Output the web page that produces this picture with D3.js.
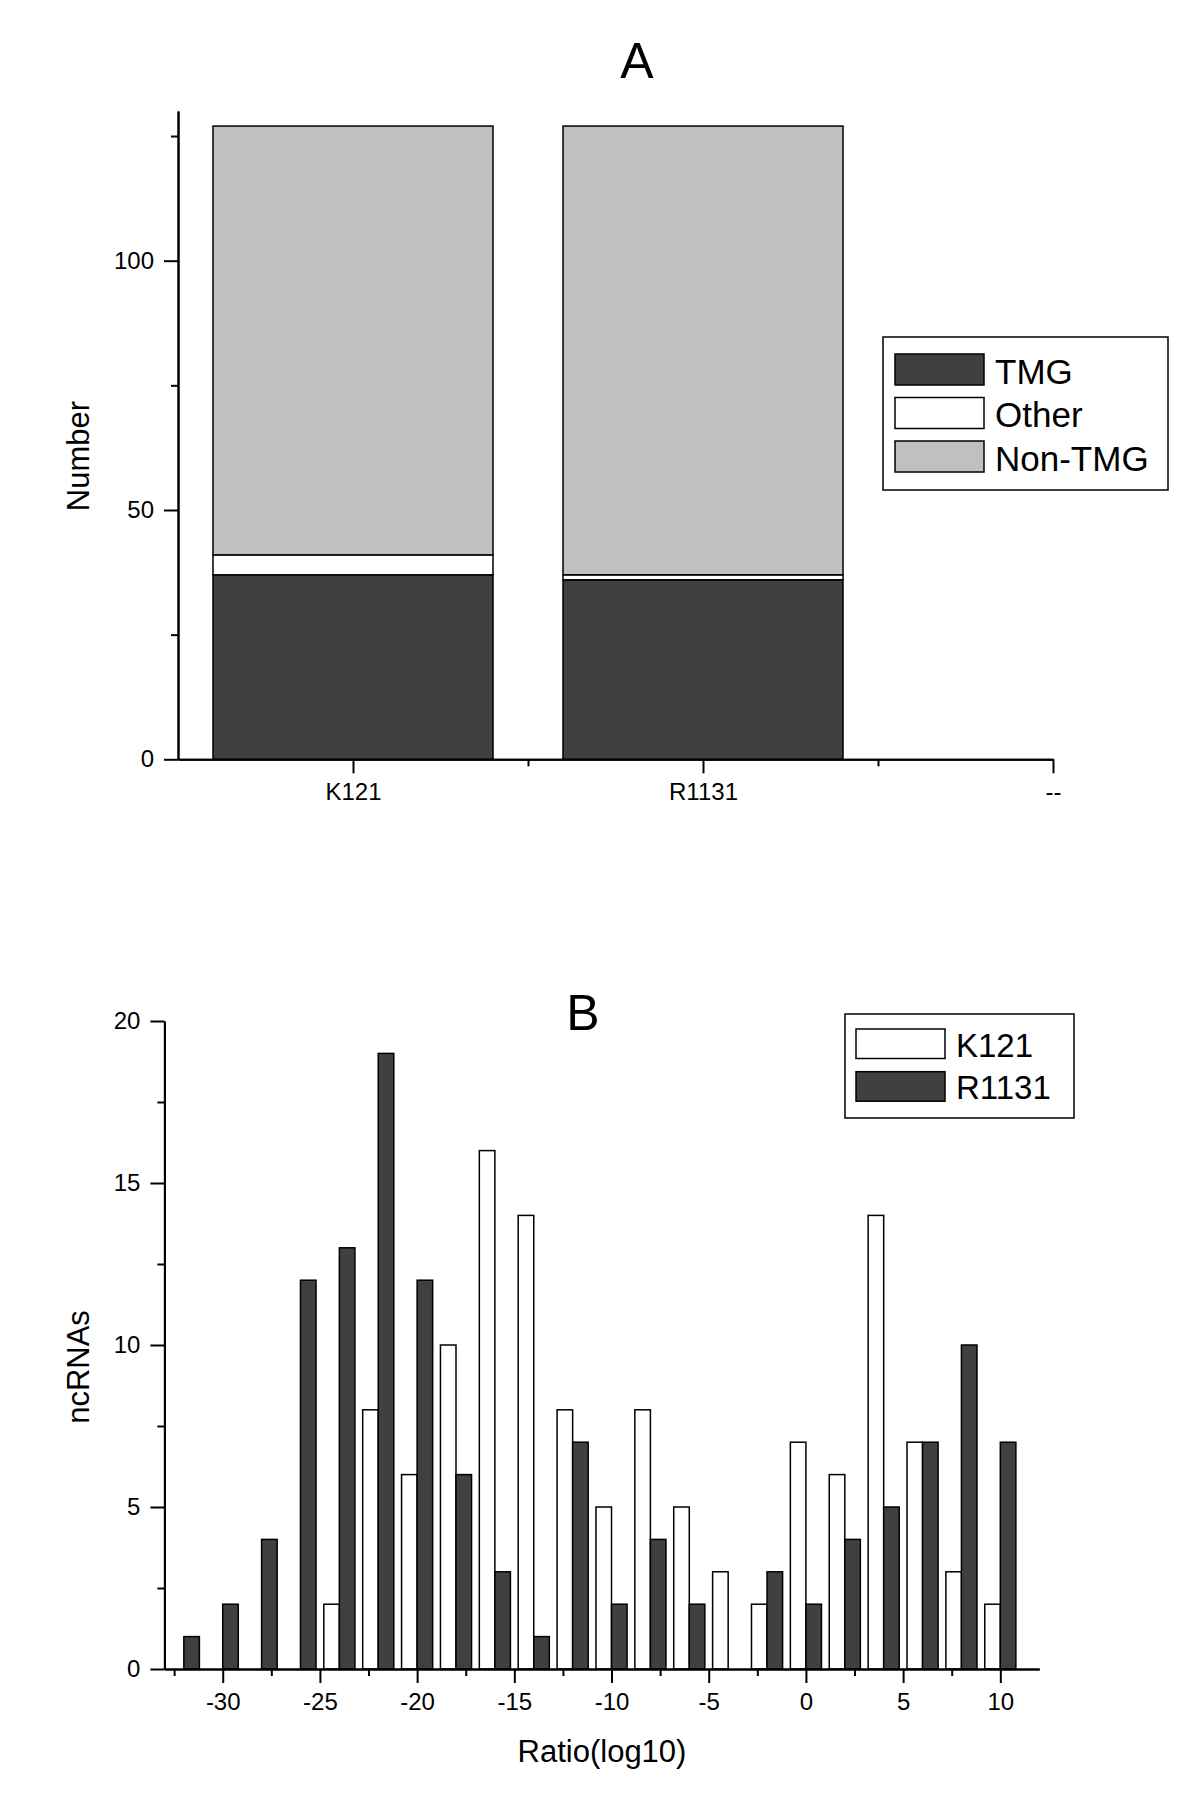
<!DOCTYPE html>
<html>
<head>
<meta charset="utf-8">
<script src="https://cdn.jsdelivr.net/npm/d3@7"></script>
<style>
  html, body { margin: 0; padding: 0; background: #fff; }
  svg { display: block; }
  text { font-family: "Liberation Sans", Arial, Helvetica, sans-serif; fill: #000; }
</style>
</head>
<body>
<svg id="chart" width="1200" height="1809"></svg>
<script>
// ---------- Data: panel A ----------
const groupsA = ["K121", "R1131"];
const tickLabelsA = ["K121", "R1131", "--"];
const seriesA = ["TMG", "Other", "Non-TMG"];
const tmgA = [37, 36];
const otherA = [4, 1];
const nonTmgA = [86, 90];
const colorsA = ["#404040", "#ffffff", "#c0c0c0"];
const yTicksA = [0, 50, 100];

// ---------- Data: panel B ----------
const binCentersB = [-32, -30, -28, -26, -24, -22, -20, -18, -16, -14, -12, -10, -8, -6, -4, -2, 0, 2, 4, 6, 8, 10];
const k121B  = [0, 0, 0, 0, 2, 8, 6, 10, 16, 14, 8, 5, 8, 5, 3, 2, 7, 6, 14, 7, 3, 2];
const r1131B = [1, 2, 4, 12, 13, 19, 12, 6, 3, 1, 7, 2, 4, 2, 0, 3, 2, 4, 5, 7, 10, 7];
const seriesB = ["K121", "R1131"];
const colorsB = ["#ffffff", "#404040"];
const xTicksB = [-30, -25, -20, -15, -10, -5, 0, 5, 10];
const yTicksB = [0, 5, 10, 15, 20];

const svg = d3.select("#chart");
svg.append("rect").attr("width", 1200).attr("height", 1809).attr("fill", "#fff");

function styleAxis(g) {
  g.select(".domain").attr("stroke", "#000").attr("stroke-width", 2);
  g.selectAll(".tick line").attr("stroke", "#000").attr("stroke-width", 2);
  g.selectAll(".tick text").attr("font-size", 24)
    .attr("font-family", "'Liberation Sans', Arial, Helvetica, sans-serif").attr("fill", "#000");
}

// ================= Panel A =================
{
  const x = d3.scaleLinear().domain([0.5, 3]).range([178, 1053]);
  const y = d3.scaleLinear().domain([0, 130]).range([759.3, 111.1]);
  const barW = 0.8;

  const stackData = groupsA.map((g, i) => ({ group: g, idx: i + 1, TMG: tmgA[i], Other: otherA[i], "Non-TMG": nonTmgA[i] }));
  const stacked = d3.stack().keys(seriesA)(stackData);

  const gBars = svg.append("g");
  stacked.forEach((layer, si) => {
    gBars.selectAll(null).data(layer).enter().append("rect")
      .attr("x", d => x(d.data.idx - barW / 2))
      .attr("width", d => x(d.data.idx + barW / 2) - x(d.data.idx - barW / 2))
      .attr("y", d => y(d[1]))
      .attr("height", d => y(d[0]) - y(d[1]))
      .attr("fill", colorsA[si])
      .attr("stroke", "#000").attr("stroke-width", 1.5);
  });

  // y axis (major + minor)
  const yMinor = svg.append("g").attr("transform", "translate(178,0)")
    .call(d3.axisLeft(y).tickValues([25, 75, 125]).tickSize(7).tickSizeOuter(0).tickFormat(""));
  styleAxis(yMinor);
  const yAx = svg.append("g").attr("transform", "translate(178,0)")
    .call(d3.axisLeft(y).tickValues(yTicksA).tickSize(14).tickSizeOuter(0).tickPadding(10));
  styleAxis(yAx);

  // x axis
  const xMinor = svg.append("g").attr("transform", "translate(0,759.3)")
    .call(d3.axisBottom(x).tickValues([1.5, 2.5]).tickSize(7).tickSizeOuter(0).tickFormat(""));
  styleAxis(xMinor);
  const xAx = svg.append("g").attr("transform", "translate(0,759.3)")
    .call(d3.axisBottom(x).tickValues([1, 2, 3]).tickSize(14).tickSizeOuter(0).tickPadding(10)
      .tickFormat((d, i) => tickLabelsA[i]));
  styleAxis(xAx);

  // title & axis label
  svg.append("text").attr("x", 637).attr("y", 77.5).attr("text-anchor", "middle")
    .attr("font-size", 50).text("A");
  svg.append("text").attr("transform", "translate(89,456) rotate(-90)").attr("text-anchor", "middle")
    .attr("font-size", 31).text("Number");

  // legend
  const lg = svg.append("g");
  lg.append("rect").attr("x", 883).attr("y", 337).attr("width", 285).attr("height", 153)
    .attr("fill", "#fff").attr("stroke", "#000").attr("stroke-width", 1.5);
  seriesA.forEach((s, i) => {
    const yy = 354 + i * 43.5;
    lg.append("rect").attr("x", 895).attr("y", yy).attr("width", 89).attr("height", 31)
      .attr("fill", colorsA[i]).attr("stroke", "#000").attr("stroke-width", 1.5);
    lg.append("text").attr("x", 995).attr("y", yy + 29.5).attr("font-size", 35).text(s);
  });
}

// ================= Panel B =================
{
  const x = d3.scaleLinear().domain([-33, 12]).range([164.4, 1039.2]);
  const y = d3.scaleLinear().domain([0, 20]).range([1669, 1021]);
  const bw = 0.8;

  const gBars = svg.append("g");
  const seriesVals = [k121B, r1131B];
  seriesVals.forEach((vals, si) => {
    const data = binCentersB.map((c, i) => ({ c, v: vals[i] })).filter(d => d.v > 0);
    gBars.selectAll(null).data(data).enter().append("rect")
      .attr("x", d => si === 0 ? x(d.c - bw) : x(d.c))
      .attr("width", d => x(d.c + bw) - x(d.c))
      .attr("y", d => y(d.v))
      .attr("height", d => y(0) - y(d.v))
      .attr("fill", colorsB[si])
      .attr("stroke", "#000").attr("stroke-width", 1.5);
  });

  const minorY = d3.range(2.5, 20, 5);
  const yMinor = svg.append("g").attr("transform", "translate(164.4,0)")
    .call(d3.axisLeft(y).tickValues(minorY).tickSize(7).tickSizeOuter(0).tickFormat(""));
  styleAxis(yMinor);
  const yAx = svg.append("g").attr("transform", "translate(164.4,0)")
    .call(d3.axisLeft(y).tickValues(yTicksB).tickSize(14).tickSizeOuter(0).tickPadding(10));
  styleAxis(yAx);

  const minorX = d3.range(-32.5, 12, 5);
  const xMinor = svg.append("g").attr("transform", "translate(0,1669)")
    .call(d3.axisBottom(x).tickValues(minorX).tickSize(7).tickSizeOuter(0).tickFormat(""));
  styleAxis(xMinor);
  const xAx = svg.append("g").attr("transform", "translate(0,1669)")
    .call(d3.axisBottom(x).tickValues(xTicksB).tickSize(14).tickSizeOuter(0).tickPadding(10)
      .tickFormat(d => String(d).replace("\u2212", "-")));
  styleAxis(xAx);

  svg.append("text").attr("x", 583).attr("y", 1030).attr("text-anchor", "middle")
    .attr("font-size", 50).text("B");
  svg.append("text").attr("transform", "translate(89,1367) rotate(-90)").attr("text-anchor", "middle")
    .attr("font-size", 31).text("ncRNAs");
  svg.append("text").attr("x", 602).attr("y", 1762).attr("text-anchor", "middle")
    .attr("font-size", 31).text("Ratio(log10)");

  const lg = svg.append("g");
  lg.append("rect").attr("x", 845).attr("y", 1014).attr("width", 229).attr("height", 104)
    .attr("fill", "#fff").attr("stroke", "#000").attr("stroke-width", 1.5);
  seriesB.forEach((s, i) => {
    const yy = 1029 + i * 42.7;
    lg.append("rect").attr("x", 856).attr("y", yy).attr("width", 89).attr("height", 29.5)
      .attr("fill", colorsB[i]).attr("stroke", "#000").attr("stroke-width", 1.5);
    lg.append("text").attr("x", 956).attr("y", yy + 27.5).attr("font-size", 33).text(s);
  });
}
</script>
</body>
</html>
